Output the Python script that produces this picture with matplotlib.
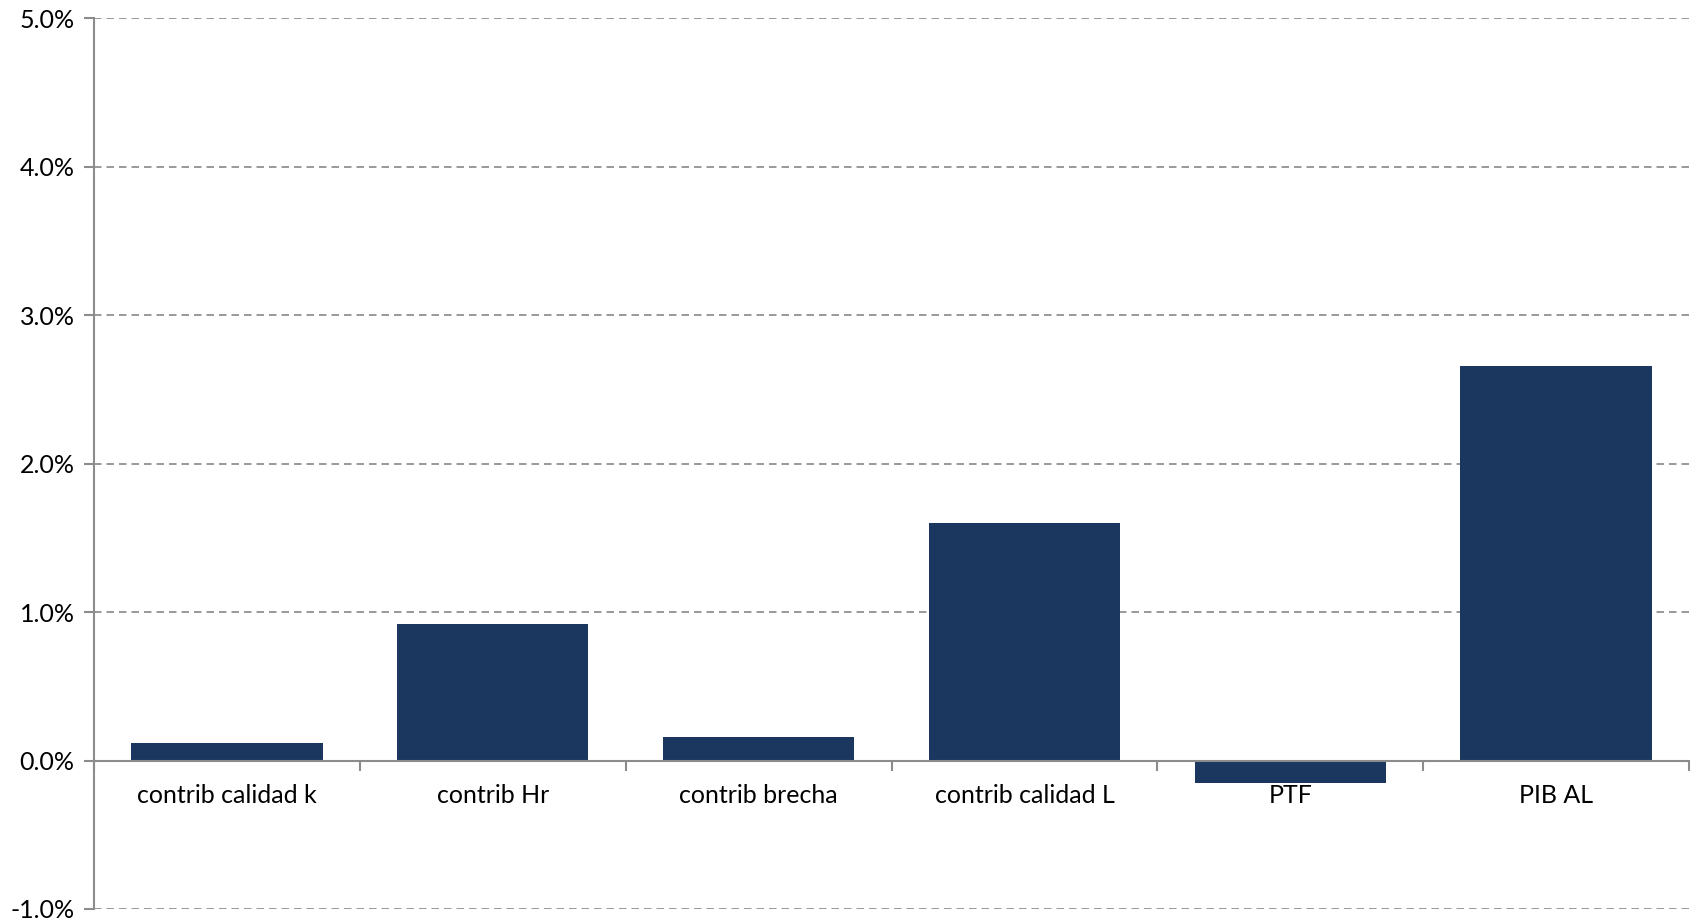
import matplotlib.pyplot as plt
import numpy as np
from matplotlib.ticker import FuncFormatter, FixedLocator

categories = ['contrib calidad k', 'contrib Hr', 'contrib brecha',
              'contrib calidad L', 'PTF', 'PIB AL']
values = [0.117, 0.922, 0.156, 1.600, -0.151, 2.661]
yticks = [-1.0, 0.0, 1.0, 2.0, 3.0, 4.0, 5.0]

plt.rcParams['font.family'] = ['Lato', 'DejaVu Sans']

fig = plt.figure(figsize=(16.98, 9.23), dpi=100)
ax = fig.add_axes([0.0554, 0.0152, 0.9393, 0.9648])

x = np.arange(len(categories))
ax.bar(x, values, width=0.72, color='#1b375f', zorder=3)

ax.set_xlim(-0.5, len(categories) - 0.5)
ax.set_ylim(-1.0, 5.0)
ax.set_yticks(yticks)
ax.yaxis.set_major_formatter(FuncFormatter(lambda v, p: '%.1f%%' % v))
ax.grid(axis='y', color='#888888', linestyle=(0, (4.5, 3)), linewidth=1.2, zorder=0)

# x axis sits on zero line
for s in ['top', 'right']:
    ax.spines[s].set_visible(False)
ax.spines['bottom'].set_position(('data', 0))
ax.spines['bottom'].set_color('#8c8c8c')
ax.spines['bottom'].set_linewidth(1.5)
ax.spines['left'].set_color('#8c8c8c')
ax.spines['left'].set_linewidth(1.5)
ax.spines['bottom'].set_zorder(4)

ax.set_xticks(x)
ax.set_xticklabels(categories)
ax.xaxis.set_minor_locator(FixedLocator(np.arange(-0.5, len(categories), 1.0)))
ax.tick_params(axis='x', which='major', length=0, pad=17, labelsize=18)
ax.tick_params(axis='x', which='minor', length=7, width=1.5, color='#8c8c8c', direction='out')
ax.tick_params(axis='y', length=7, width=1.5, color='#8c8c8c', labelsize=18, pad=7)

fig.savefig('out.png', dpi=100)
